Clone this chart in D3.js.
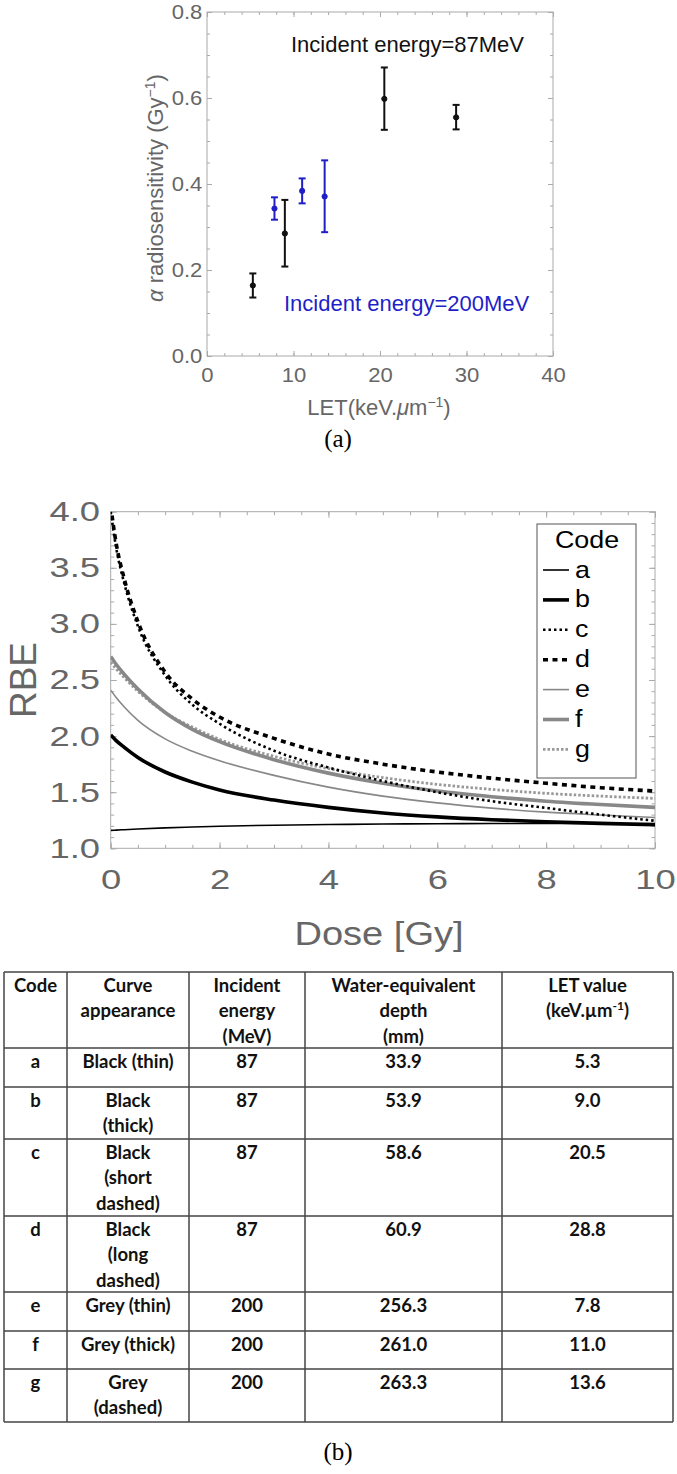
<!DOCTYPE html>
<meta charset='utf-8'>
<head>
  <title>Alpha radiosensitivity and RBE</title>
  <style>
    body { margin: 0; background: #fff; }
    svg { display: block; }
  </style>
</head>
<body>
<div id='chart'></div>
<script src='https://d3js.org/d3.v7.min.js'></script>
<script>

// (a) alpha vs LET, two beam energies
var let87 = [5.3, 9.0, 20.5, 28.8],
    alpha87 = [0.164, 0.285, 0.598, 0.555],
    lo87 = [0.136, 0.208, 0.526, 0.527],
    hi87 = [0.192, 0.363, 0.671, 0.584];
var let200 = [7.8, 11.0, 13.6],
    alpha200 = [0.343, 0.384, 0.371],
    lo200 = [0.317, 0.355, 0.288],
    hi200 = [0.369, 0.413, 0.455];

// (b) RBE vs dose, one curve per code
var doses = [0, 0.1, 0.25, 0.5, 1, 1.5, 2, 3, 4, 5, 6, 7, 8, 9, 10];
var rbeA = [1.16, 1.162, 1.166, 1.172, 1.182, 1.19, 1.197, 1.206, 1.212, 1.216, 1.219, 1.221, 1.222, 1.222, 1.221],
    rbeB = [2.01, 1.96, 1.90, 1.81, 1.68, 1.59, 1.52, 1.43, 1.365, 1.315, 1.28, 1.255, 1.237, 1.222, 1.21],
    rbeC = [4.0, 3.68, 3.36, 2.98, 2.54, 2.28, 2.11, 1.87, 1.72, 1.60, 1.50, 1.42, 1.36, 1.30, 1.245],
    rbeD = [4.05, 3.72, 3.40, 3.02, 2.57, 2.33, 2.17, 1.98, 1.84, 1.75, 1.68, 1.625, 1.58, 1.54, 1.51],
    rbeE = [2.41, 2.345, 2.26, 2.14, 1.975, 1.865, 1.78, 1.65, 1.545, 1.465, 1.405, 1.358, 1.322, 1.297, 1.275],
    rbeF = [2.71, 2.64, 2.55, 2.42, 2.21, 2.06, 1.95, 1.79, 1.67, 1.58, 1.51, 1.46, 1.42, 1.39, 1.365],
    rbeG = [2.66, 2.60, 2.52, 2.40, 2.21, 2.08, 1.97, 1.82, 1.71, 1.63, 1.57, 1.525, 1.49, 1.465, 1.445];
var codes = ['a', 'b', 'c', 'd', 'e', 'f', 'g'];

// table
var appearance = [['Black (thin)'], ['Black', '(thick)'], ['Black', '(short', 'dashed)'],
                  ['Black', '(long', 'dashed)'], ['Grey (thin)'], ['Grey (thick)'], ['Grey', '(dashed)']],
    energy = ['87', '87', '87', '87', '200', '200', '200'],
    depth = ['33.9', '53.9', '58.6', '60.9', '256.3', '261.0', '263.3'],
    letValue = ['5.3', '9.0', '20.5', '28.8', '7.8', '11.0', '13.6'];

var svg = d3.select('#chart').append('svg')
    .attr('width', 677)
    .attr('height', 1474)
    .style('font-family', "'Liberation Sans', Arial, sans-serif");

// box frame with major/minor ticks pointing inward on all four sides
function frame(g, x, y, o) {
  var x0 = x.range()[0], x1 = x.range()[1],
      y0 = y.range()[0], y1 = y.range()[1];
  var sides = [
    {axis: d3.axisBottom, scale: x, at: 'translate(0,' + y0 + ')', minor: o.xMinor, major: o.xMajor, fmt: o.fmtX, pad: o.padX},
    {axis: d3.axisTop, scale: x, at: 'translate(0,' + y1 + ')', minor: o.xMinor, major: o.xMajor},
    {axis: d3.axisLeft, scale: y, at: 'translate(' + x0 + ',0)', minor: o.yMinor, major: o.yMajor, fmt: o.fmtY, pad: o.padY},
    {axis: d3.axisRight, scale: y, at: 'translate(' + x1 + ',0)', minor: o.yMinor, major: o.yMajor}
  ];
  sides.forEach(function(s) {
    g.append('g').attr('transform', s.at)
        .call(s.axis(s.scale).tickValues(s.minor).tickSize(-o.minor).tickFormat(''));
    var ax = s.axis(s.scale).tickValues(s.major).tickSizeInner(-o.major).tickSizeOuter(0)
        .tickFormat(s.fmt || '');
    if (s.pad) ax.tickPadding(s.pad);
    g.append('g').attr('transform', s.at).call(ax);
  });
  g.selectAll('.domain').remove();
  g.selectAll('g').attr('font-family', null).attr('font-size', null);
  g.selectAll('.tick line').attr('stroke', '#aaa');
  g.selectAll('.tick text')
      .attr('fill', '#666')
      .attr('transform', 'scale(' + o.sx + ',1)')
      .style('font-size', o.fs + 'px');
  g.append('rect')
      .attr('x', x0).attr('y', y1)
      .attr('width', x1 - x0).attr('height', y0 - y1)
      .attr('fill', 'none').attr('stroke', '#aaa');
}

// ---------- (a)
var xa = d3.scaleLinear().domain([0, 40]).range([207, 553]),
    ya = d3.scaleLinear().domain([0, 0.8]).range([356, 12]);
var ga = svg.append('g');

frame(ga, xa, ya, {
  xMajor: [0, 10, 20, 30, 40], xMinor: d3.range(0, 40.01, 2),
  yMajor: [0, 0.2, 0.4, 0.6, 0.8], yMinor: d3.range(0, 0.801, 0.05),
  fmtX: d3.format('d'), fmtY: d3.format('.1f'),
  major: 5, minor: 3, padX: 11, padY: 4.5, fs: 21, sx: 1.05
});

function points(g, xs, ys, lo, hi, color) {
  var d = xs.map(function(v, i) { return {x: v, y: ys[i], lo: lo[i], hi: hi[i]}; });
  var pt = g.selectAll(null).data(d).enter().append('g')
      .attr('stroke', color).attr('fill', color).attr('stroke-width', 2);
  pt.append('line')
      .attr('x1', function(p) { return xa(p.x); }).attr('x2', function(p) { return xa(p.x); })
      .attr('y1', function(p) { return ya(p.lo); }).attr('y2', function(p) { return ya(p.hi); });
  ['lo', 'hi'].forEach(function(k) {
    pt.append('line')
        .attr('x1', function(p) { return xa(p.x) - 3.5; }).attr('x2', function(p) { return xa(p.x) + 3.5; })
        .attr('y1', function(p) { return ya(p[k]); }).attr('y2', function(p) { return ya(p[k]); });
  });
  pt.append('circle')
      .attr('cx', function(p) { return xa(p.x); })
      .attr('cy', function(p) { return ya(p.y); })
      .attr('r', 2.6).attr('stroke-width', 1);
}
points(ga, let87, alpha87, lo87, hi87, '#111');
points(ga, let200, alpha200, lo200, hi200, '#1f1fc8');

ga.append('text').attr('x', 291).attr('y', 52)
    .style('font-size', '22px').attr('fill', '#111')
    .text('Incident energy=87MeV');
ga.append('text').attr('x', 284).attr('y', 311)
    .style('font-size', '22px').attr('fill', '#1f1fc8')
    .text('Incident energy=200MeV');

var xt = ga.append('text').attr('x', 379).attr('y', 415)
    .attr('text-anchor', 'middle').attr('fill', '#666').style('font-size', '22px');
xt.append('tspan').text('LET(keV.');
xt.append('tspan').style('font-style', 'italic').text('\u03bc');
xt.append('tspan').text('m');
xt.append('tspan').attr('dy', -8).style('font-size', '14px').text('\u22121');
xt.append('tspan').attr('dy', 8).text(')');

var yt = ga.append('text').attr('transform', 'translate(163,188) rotate(-90)')
    .attr('text-anchor', 'middle').attr('fill', '#666').style('font-size', '22px');
yt.append('tspan').style('font-style', 'italic').text('\u03b1');
yt.append('tspan').text(' radiosensitivity (Gy');
yt.append('tspan').attr('dy', -8).style('font-size', '14px').text('\u22121');
yt.append('tspan').attr('dy', 8).text(')');

svg.append('text').attr('x', 338).attr('y', 447)
    .attr('text-anchor', 'middle')
    .style('font-family', "'Liberation Serif', 'Times New Roman', serif")
    .style('font-size', '25px').text('(a)');

// ---------- (b)
var xb = d3.scaleLinear().domain([0, 10]).range([110.7, 655]),
    yb = d3.scaleLinear().domain([1, 4]).range([848.3, 511.7]);
var gb = svg.append('g');

frame(gb, xb, yb, {
  xMajor: [0, 2, 4, 6, 8, 10], xMinor: d3.range(0, 10.01, 0.5),
  yMajor: [1, 1.5, 2, 2.5, 3, 3.5, 4], yMinor: d3.range(1, 4.001, 0.1),
  fmtX: d3.format('d'), fmtY: d3.format('.1f'),
  major: 6, minor: 3.5, padX: 21, padY: 8.2, fs: 28, sx: 1.3
});

var styles = {
  a: {color: '#000', width: 1.6, dash: null},
  b: {color: '#000', width: 3.6, dash: null},
  c: {color: '#000', width: 2.6, dash: '2.5,3'},
  d: {color: '#000', width: 3.6, dash: '5,4.5'},
  e: {color: '#888', width: 1.6, dash: null},
  f: {color: '#888', width: 3.6, dash: null},
  g: {color: '#999', width: 2.8, dash: '2.5,2'}
};
var series = {a: rbeA, b: rbeB, c: rbeC, d: rbeD, e: rbeE, f: rbeF, g: rbeG};

gb.append('clipPath').attr('id', 'clipb').append('rect')
    .attr('x', 110.7).attr('y', 511.7).attr('width', 655 - 110.7).attr('height', 848.3 - 511.7);

var line = d3.line()
    .x(function(d) { return xb(d[0]); })
    .y(function(d) { return yb(d[1]); })
    .curve(d3.curveMonotoneX);

var drawOrder = ['g', 'f', 'e', 'd', 'c', 'b', 'a'];
gb.append('g').attr('clip-path', 'url(#clipb)')
  .selectAll('path').data(drawOrder).enter().append('path')
    .attr('d', function(k) { return line(doses.map(function(v, i) { return [v, series[k][i]]; })); })
    .attr('fill', 'none')
    .attr('stroke', function(k) { return styles[k].color; })
    .attr('stroke-width', function(k) { return styles[k].width; })
    .attr('stroke-dasharray', function(k) { return styles[k].dash; });

// legend
var lg = gb.append('g');
lg.append('rect').attr('x', 537).attr('y', 524).attr('width', 99).attr('height', 254)
    .attr('fill', '#fff').attr('stroke', '#555');
lg.append('text').attr('transform', 'translate(587,548) scale(1.12,1)').attr('text-anchor', 'middle')
    .style('font-size', '24px').text('Code');
var item = lg.selectAll('.item').data(codes).enter().append('g')
    .attr('transform', function(d, i) { return 'translate(0,' + (570 + i * 29.9) + ')'; });
item.append('line').attr('x1', 543).attr('x2', 569)
    .attr('stroke', function(k) { return styles[k].color; })
    .attr('stroke-width', function(k) { return styles[k].width; })
    .attr('stroke-dasharray', function(k) { return styles[k].dash; });
item.append('text').attr('transform', 'translate(575,7.5) scale(1.12,1)')
    .style('font-size', '24px').text(function(k) { return k; });

gb.append('text').attr('transform', 'translate(36,680) rotate(-90)')
    .attr('text-anchor', 'middle').attr('fill', '#666').style('font-size', '37px').text('RBE');
gb.append('text').attr('transform', 'translate(379,945) scale(1.12,1)')
    .attr('text-anchor', 'middle').attr('fill', '#666').style('font-size', '34px').text('Dose [Gy]');

// ---------- table
var colX = [4, 67, 189, 305, 502, 673],
    rowY = [972, 1048, 1087, 1139, 1216, 1292, 1331, 1369, 1422];
var gt = svg.append('g')
    .style('font-family', "Lato, 'Open Sans', sans-serif")
    .style('font-weight', 'bold').style('font-size', '18.5px');

colX.forEach(function(x) {
  gt.append('line').attr('x1', x).attr('x2', x).attr('y1', rowY[0]).attr('y2', rowY[rowY.length - 1])
      .attr('stroke', '#444').attr('stroke-width', 1.5);
});
rowY.forEach(function(y) {
  gt.append('line').attr('x1', colX[0]).attr('x2', colX[colX.length - 1]).attr('y1', y).attr('y2', y)
      .attr('stroke', '#444').attr('stroke-width', 1.5);
});

function cell(col, row, lines) {
  var cx = (colX[col] + colX[col + 1]) / 2;
  var t = gt.append('text').attr('text-anchor', 'middle').attr('fill', '#111');
  lines.forEach(function(s, j) {
    t.append('tspan').attr('x', cx).attr('y', rowY[row] + 20 + j * 25.3).text(s);
  });
  return t;
}
cell(0, 0, ['Code']);
cell(1, 0, ['Curve', 'appearance']);
cell(2, 0, ['Incident', 'energy', '(MeV)']);
cell(3, 0, ['Water-equivalent', 'depth', '(mm)']);
cell(4, 0, ['LET value']);
var lt = gt.append('text').attr('text-anchor', 'middle').attr('fill', '#111')
    .attr('x', (colX[4] + colX[5]) / 2).attr('y', rowY[0] + 45.3);
lt.append('tspan').text('(keV.\u00b5m');
lt.append('tspan').attr('dy', -7).style('font-size', '12px').text('-1');
lt.append('tspan').attr('dy', 7).text(')');

codes.forEach(function(c, i) {
  cell(0, i + 1, [c]);
  cell(1, i + 1, appearance[i]);
  cell(2, i + 1, [energy[i]]);
  cell(3, i + 1, [depth[i]]);
  cell(4, i + 1, [letValue[i]]);
});

svg.append('text').attr('x', 338).attr('y', 1460)
    .attr('text-anchor', 'middle')
    .style('font-family', "'Liberation Serif', 'Times New Roman', serif")
    .style('font-size', '25px').text('(b)');

</script>
</body>
